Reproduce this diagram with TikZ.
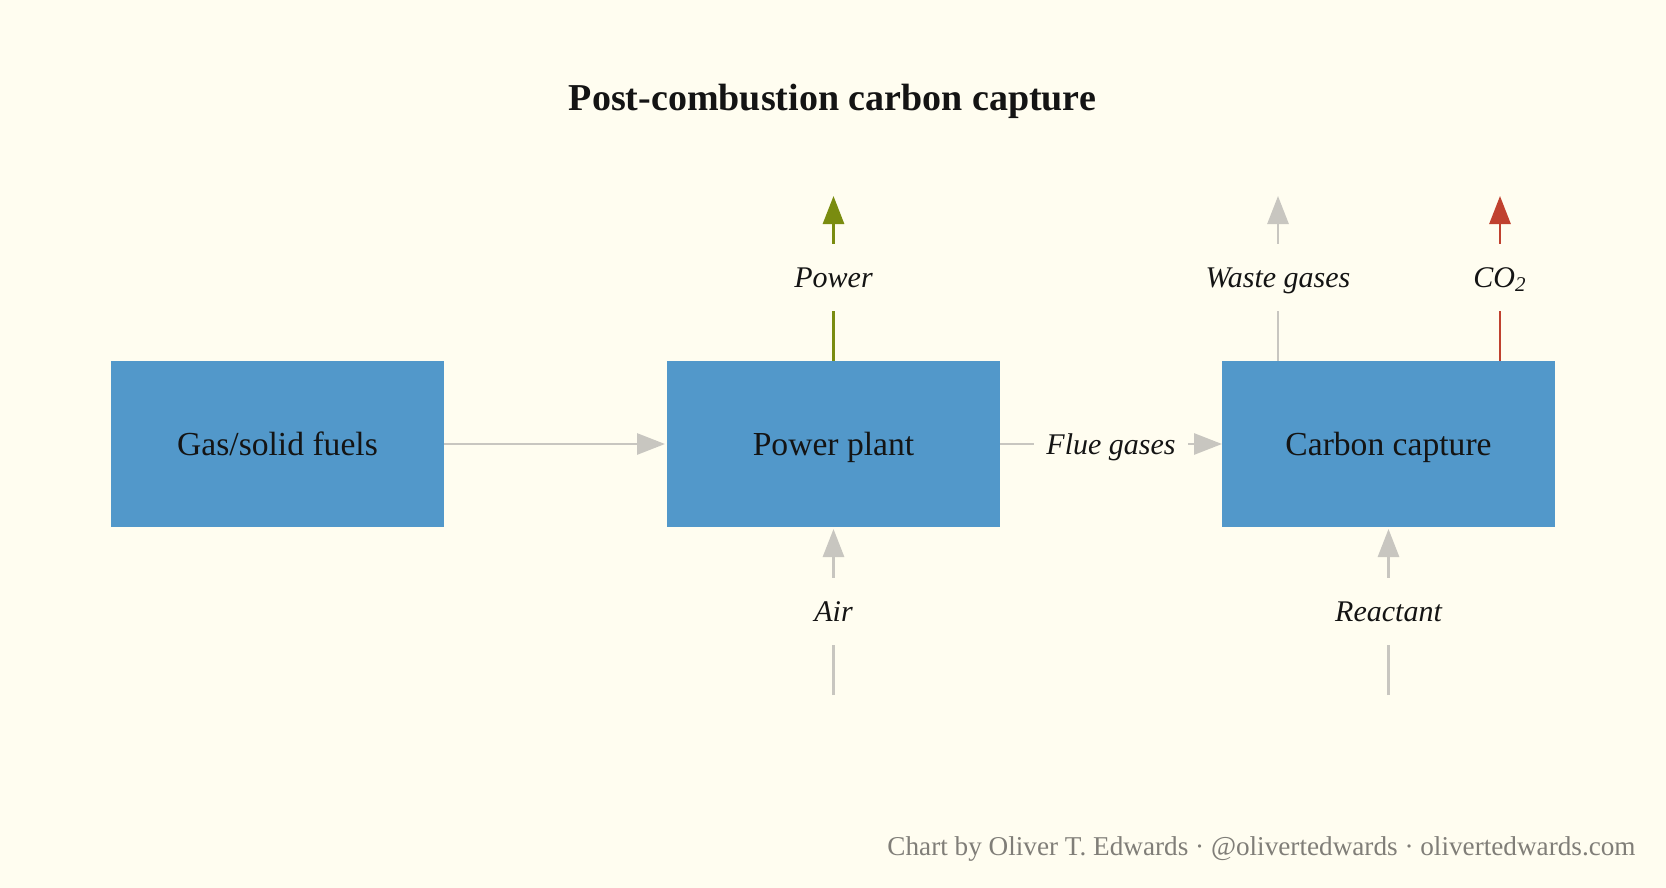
\documentclass[tikz,border=0pt]{standalone}
\usepackage{fontspec}
\setmainfont{Liberation Serif}
\usetikzlibrary{arrows.meta}
\definecolor{bgcream}{HTML}{FFFDF0}
\definecolor{boxblue}{HTML}{5298CA}
\definecolor{arrgray}{HTML}{C8C6C0}
\definecolor{pgreen}{HTML}{7A8C10}
\definecolor{cred}{HTML}{C0412F}
\definecolor{footgray}{HTML}{807E78}
\definecolor{ink}{HTML}{141414}
\tikzset{
  procbox/.style={rectangle, fill=boxblue, draw=none, minimum width=166.5pt, minimum height=83pt,
    inner sep=0pt, outer sep=0pt, text=ink, text height=13pt, text depth=2pt,
    font=\fontsize{16.8}{20}\selectfont},
  flowlabel/.style={inner sep=0pt, outer sep=0pt, text=ink, text height=13pt, text depth=3pt,
    font=\fontsize{15}{18}\selectfont\itshape},
  vlabel/.style={flowlabel, minimum height=33.5pt},
  flowline/.style={line width=1.4pt, draw=arrgray},
  flowarrow/.style={flowline, -{Triangle[length=14pt,width=10.5pt]}},
}
\begin{document}
\begin{tikzpicture}[x=0.5pt,y=-0.5pt]
\useasboundingbox (0,0) rectangle (1666,888);
\fill[bgcream] (0,0) rectangle (1666,888);

% title
\node[anchor=base, text=ink, font=\fontsize{19}{23}\selectfont\bfseries, inner sep=0pt] (title) at (832.5,111) {Post-combustion carbon capture};

% boxes
\node[procbox] (fuels) at (277.5,444) {Gas/solid fuels};
\node[procbox] (plant) at (833.5,444) {Power plant};
\node[procbox] (capture) at (1388.5,444) {Carbon capture};

% labels
\node[flowlabel, minimum width=77pt, minimum height=20pt] (flue) at (1111,444) {Flue gases};
\node[vlabel] (power) at (833.5,277) {Power};
\node[vlabel] (waste) at (1278,277) {Waste gases};
\node[vlabel] (co2) at (1500,277) {CO\textsubscript{2}};
\node[vlabel] (air) at (833.5,611) {Air};
\node[vlabel] (reactant) at (1388.5,611) {Reactant};

% free ends
\coordinate (powertop) at (833.5,196);
\coordinate (wastetop) at (1278,196);
\coordinate (co2top) at (1500,196);
\coordinate (airbot) at (833.5,695);
\coordinate (reactbot) at (1388.5,695);
\coordinate (plantpw) at (833.5,361);
\coordinate (capwaste) at (1278,361);
\coordinate (capco2) at (1500,361);

% connectors
\draw[flowarrow, shorten >=1pt] (fuels.east) -- (plant.west);
\draw[flowline] (plant.east) -- (flue.west);
\draw[flowarrow] (flue.east) -- (capture.west);

\draw[flowline, draw=pgreen] (plantpw) -- (power.south);
\draw[flowarrow, draw=pgreen, fill=pgreen] (power.north) -- (powertop);

\draw[flowline] (capwaste) -- (waste.south);
\draw[flowarrow, fill=arrgray] (waste.north) -- (wastetop);

\draw[flowline, draw=cred] (capco2) -- (co2.south);
\draw[flowarrow, draw=cred, fill=cred] (co2.north) -- (co2top);

\draw[flowline] (airbot) -- (air.south);
\draw[flowarrow, shorten >=1pt] (air.north) -- (plant.south);

\draw[flowline] (reactbot) -- (reactant.south);
\draw[flowarrow, shorten >=1pt] (reactant.north) -- (capture.south);

% footer
\node[anchor=base east, inner sep=0pt, text=footgray, font=\fontsize{13.6}{16}\selectfont] (credit) at (1636,855)
  {Chart by Oliver T. Edwards \textperiodcentered{} @olivertedwards \textperiodcentered{} olivertedwards.com};
\end{tikzpicture}
\end{document}
